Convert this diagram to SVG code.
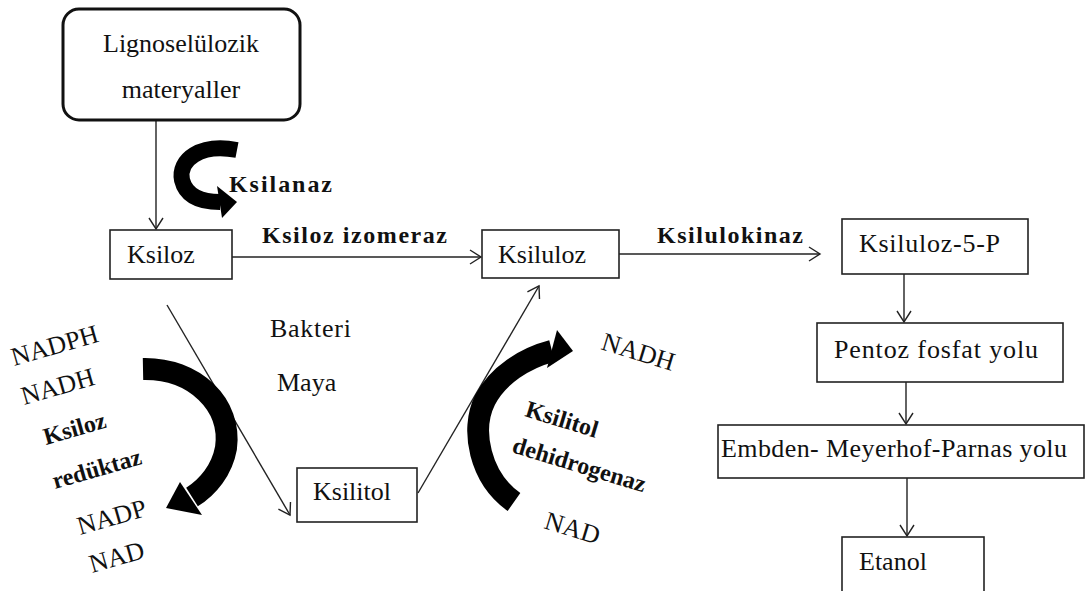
<svg xmlns="http://www.w3.org/2000/svg" width="1088" height="591" viewBox="0 0 1088 591">
<defs>
<marker id="open" markerWidth="14" markerHeight="16" refX="12" refY="8" orient="auto" markerUnits="userSpaceOnUse">
<path d="M1,1 L12,8 L1,15" fill="none" stroke="#222" stroke-width="1.4"/>
</marker>
<style>
.box{fill:#fff;stroke:#222;stroke-width:1.6}
.t{font-family:"Liberation Serif","Times New Roman",serif;font-size:26px;fill:#111}
.b{font-family:"Liberation Serif","Times New Roman",serif;font-size:24px;font-weight:bold;fill:#111}
.ln{fill:none;stroke:#222;stroke-width:1.4}
.band{fill:none;stroke:#000}
</style>
</defs>
<rect width="1088" height="591" fill="#fff"/>

<g id="connectors">
<line class="ln" x1="156" y1="120" x2="156" y2="229" marker-end="url(#open)"/>
<line class="ln" x1="232" y1="257" x2="481" y2="257" marker-end="url(#open)"/>
<line class="ln" x1="619" y1="254" x2="820" y2="254" marker-end="url(#open)"/>
<line class="ln" x1="904" y1="274" x2="904" y2="322" marker-end="url(#open)"/>
<line class="ln" x1="906" y1="382" x2="906" y2="424" marker-end="url(#open)"/>
<line class="ln" x1="907" y1="478" x2="907" y2="536" marker-end="url(#open)"/>
<line class="ln" x1="167" y1="305" x2="290" y2="515" marker-end="url(#open)"/>
<line class="ln" x1="418" y1="493" x2="539" y2="286" marker-end="url(#open)"/>
<!-- thick curved arrows -->
<path class="band" stroke-width="16" d="M237 150 C200 143 178 160 182 180 C186 196 200 202 220 202"/>
<polygon points="217,186 237,202 222,218" fill="#000"/>
<path class="band" stroke-width="22" d="M143 369 C195 368 232 405 226 448 C222 470 208 487 192 497"/>
<polygon points="180,482 202,515 166,508" fill="#000"/>
<path class="band" stroke-width="22" d="M514 502 C480 478 470 430 485 400 C498 375 525 358 552 351"/>
<polygon points="557,330 573,351 547,368" fill="#000"/>
</g>

<g id="lignoselulozik">
<rect x="63" y="9" width="237" height="111" rx="16" fill="#fff" stroke="#111" stroke-width="3"/>
<text class="t" x="181" y="52" text-anchor="middle">Lignoselülozik</text>
<text class="t" x="181" y="98" text-anchor="middle">materyaller</text>
</g>

<g id="ksiloz">
<rect class="box" x="110" y="230" width="122" height="49"/>
<text class="t" x="127" y="263">Ksiloz</text>
</g>

<g id="ksiluloz">
<rect class="box" x="482" y="230" width="137" height="48"/>
<text class="t" x="498" y="263">Ksiluloz</text>
</g>

<g id="ksiluloz5p">
<rect class="box" x="842" y="219" width="186" height="55"/>
<text class="t" x="859" y="252" textLength="141">Ksiluloz-5-P</text>
</g>

<g id="pentoz">
<rect class="box" x="817" y="323" width="246" height="59"/>
<text class="t" x="834" y="358" textLength="204">Pentoz fosfat yolu</text>
</g>

<g id="embden">
<rect class="box" x="718" y="425" width="366" height="53"/>
<text class="t" x="721" y="457" textLength="346">Embden- Meyerhof-Parnas yolu</text>
</g>

<g id="etanol">
<rect class="box" x="842" y="537" width="142" height="60"/>
<text class="t" x="859" y="570">Etanol</text>
</g>

<g id="ksilitol">
<rect class="box" x="297" y="468" width="120" height="54"/>
<text class="t" x="313" y="500">Ksilitol</text>
</g>

<g id="labels">
<text class="b" x="229" y="192" textLength="103">Ksilanaz</text>
<text class="b" x="262" y="243" textLength="185">Ksiloz izomeraz</text>
<text class="b" x="657" y="243" textLength="146">Ksilulokinaz</text>
<text class="t" x="270" y="337" textLength="81">Bakteri</text>
<text class="t" x="277" y="391">Maya</text>
<text class="t" transform="translate(14,366) rotate(-16)">NADPH</text>
<text class="t" transform="translate(24,405) rotate(-16)">NADH</text>
<text class="b" transform="translate(46,445) rotate(-16)">Ksiloz</text>
<text class="b" transform="translate(55,489) rotate(-16)">redüktaz</text>
<text class="t" transform="translate(80,535) rotate(-16)">NADP</text>
<text class="t" transform="translate(92,573) rotate(-16)">NAD</text>
<text class="t" transform="translate(600,349) rotate(17)">NADH</text>
<text class="b" transform="translate(524,416) rotate(17)">Ksilitol</text>
<text class="b" transform="translate(511,452) rotate(17)">dehidrogenaz</text>
<text class="t" transform="translate(543,528) rotate(17)">NAD</text>
</g>
</svg>
